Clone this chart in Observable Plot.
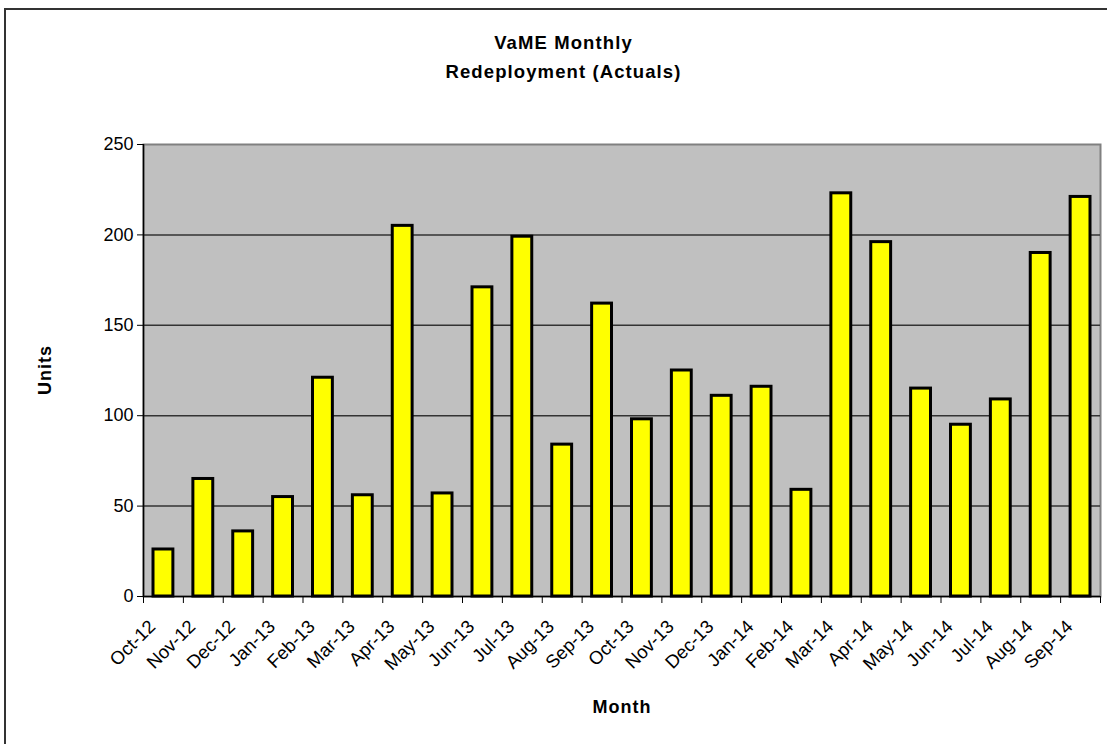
<!DOCTYPE html>
<html>
<head>
<meta charset="utf-8">
<script src="https://cdn.jsdelivr.net/npm/d3@7"></script>
<script src="https://cdn.jsdelivr.net/npm/@observablehq/plot@0.6"></script>
<style>
  html, body { margin: 0; padding: 0; background: #fff; overflow: hidden; }
  #wrap { position: relative; width: 1107px; height: 744px; font-family: "Liberation Sans", Arial, sans-serif; }
  #border { position: absolute; left: 4px; top: 8px; width: 1110px; height: 750px; border: 2px solid #333; box-sizing: border-box; }
  .title { position: absolute; left: 0; width: 1127px; text-align: center; font-weight: bold; font-size: 18.5px; letter-spacing: 1.1px; color: #000; }
  #ylab { position: absolute; left: 45px; top: 370px; transform: translate(-50%, -50%) rotate(-90deg); font-weight: bold; font-size: 18px; letter-spacing: 1px; }
  #xlab { position: absolute; left: 622px; top: 707px; transform: translate(-50%, -50%); font-weight: bold; font-size: 18px; letter-spacing: 1px; }
  #chart { position: absolute; left: 0; top: 0; }
</style>
</head>
<body>
<div id="wrap">
  <div id="border"></div>
  <div class="title" style="top:32px">VaME Monthly</div>
  <div class="title" style="top:61px">Redeployment (Actuals)</div>
  <div id="ylab">Units</div>
  <div id="xlab">Month</div>
  <div id="chart"></div>
</div>
<script>
const months = ["Oct-12","Nov-12","Dec-12","Jan-13","Feb-13","Mar-13","Apr-13","May-13","Jun-13","Jul-13","Aug-13","Sep-13",
                "Oct-13","Nov-13","Dec-13","Jan-14","Feb-14","Mar-14","Apr-14","May-14","Jun-14","Jul-14","Aug-14","Sep-14"];
const units = [26, 65, 36, 55, 121, 56, 205, 57, 171, 199, 84, 162, 98, 125, 111, 116, 59, 223, 196, 115, 95, 109, 190, 221];
const yTicks = [0, 50, 100, 150, 200, 250];
const gridLines = [50, 100, 150, 200];

const data = months.map((m, i) => ({month: m, i, value: units[i]}));
const boundaries = d3.range(months.length + 1);
const centers = d3.range(months.length).map(i => i + 0.5);

const chart = Plot.plot({
  width: 1107,
  height: 744,
  marginLeft: 143,
  marginRight: 7,
  marginTop: 144,
  marginBottom: 148,
  style: {fontFamily: "'Liberation Sans', Arial, sans-serif", background: "transparent", color: "#000"},
  x: {type: "linear", domain: [0, months.length], axis: null},
  y: {domain: [0, 250], axis: null},
  marks: [
    Plot.frame({fill: "#c0c0c0", stroke: "#808080", strokeWidth: 2}),
    Plot.ruleY(gridLines, {stroke: "#333", strokeWidth: 1.5}),
    Plot.rectY(data, {x1: "i", x2: d => d.i + 1, y1: 0, y2: "value", insetLeft: 10, insetRight: 10,
      fill: "#ffff00", stroke: "#000", strokeWidth: 3}),
    Plot.ruleY([0], {stroke: "#000", strokeWidth: 1.5}),
    Plot.ruleX([0], {stroke: "#000", strokeWidth: 1.5}),
    Plot.axisY(yTicks, {anchor: "left", tickSize: 6, tickPadding: 4, fontSize: 18, stroke: "#000", label: null}),
    Plot.axisX(boundaries, {anchor: "bottom", tickSize: 7, tickFormat: () => "", stroke: "#000", label: null}),
    Plot.text(centers, {x: d => d, frameAnchor: "bottom", text: v => months[Math.round(v - 0.5)],
      rotate: -45, textAnchor: "end", fontSize: 18.5, dy: 27, dx: -11, lineAnchor: "middle", fill: "#000"})
  ]
});
document.getElementById("chart").appendChild(chart);
</script>
</body>
</html>
